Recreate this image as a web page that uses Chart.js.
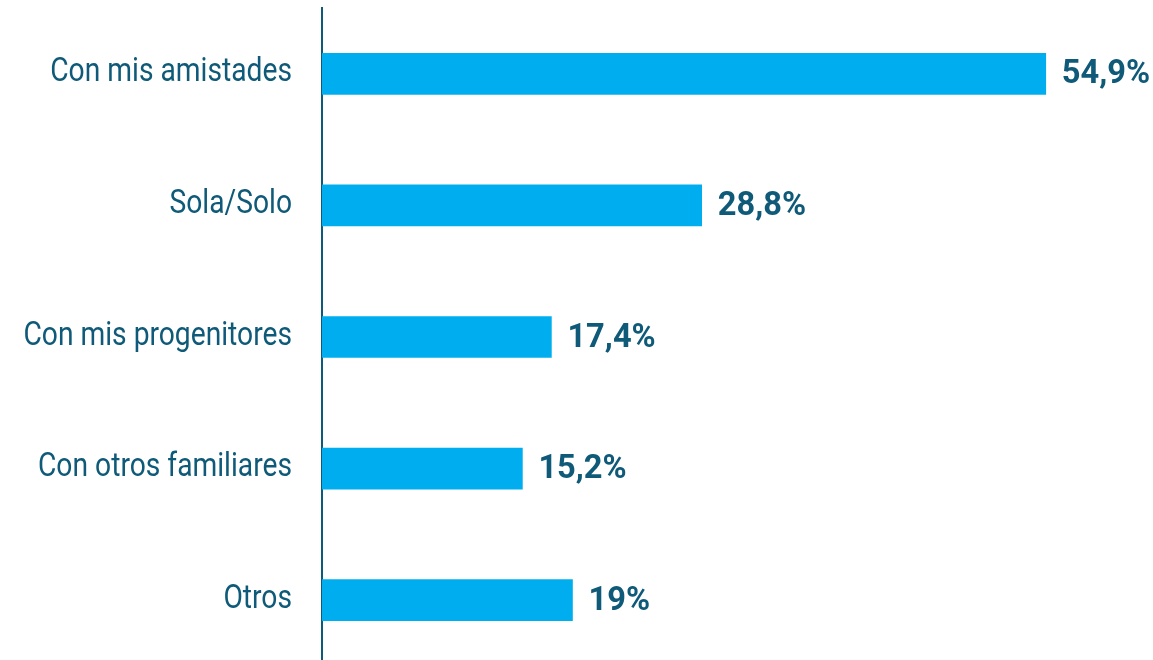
<!DOCTYPE html>
<html>
<head>
<meta charset="utf-8">
<script src="https://cdn.jsdelivr.net/npm/chart.js@4"></script>
<style>
  html, body { margin: 0; padding: 0; background: #fff; overflow: hidden; }
  #wrap { width: 1153px; height: 670px; }
</style>
</head>
<body>
<div id="wrap"><canvas id="chart" width="1153" height="670"></canvas></div>
<script>
const CATEGORIES = ['Con mis amistades', 'Sola/Solo', 'Con mis progenitores', 'Con otros familiares', 'Otros'];
const VALUES = [54.9, 28.8, 17.4, 15.2, 19];
const VALUE_LABELS = ['54,9%', '28,8%', '17,4%', '15,2%', '19%'];

const BAR_COLOR = '#00AEEF';
const TEXT_COLOR = '#0F5A78';
const FONT = "Roboto, 'Liberation Sans', sans-serif";

// the reference uses a condensed face; squeeze Roboto horizontally instead
function drawSqueezed(ctx, text, x, y, sx) {
  ctx.save();
  ctx.translate(x, y);
  ctx.scale(sx, 1);
  ctx.fillText(text, 0, 0);
  ctx.restore();
}

const textLabels = {
  id: 'textLabels',
  afterDatasetsDraw(chart) {
    const { ctx } = chart;
    const meta = chart.getDatasetMeta(0);
    const yScale = chart.scales.y;
    ctx.save();
    ctx.fillStyle = TEXT_COLOR;
    ctx.textBaseline = 'middle';

    ctx.font = `34px ${FONT}`;
    ctx.textAlign = 'right';
    CATEGORIES.forEach((c, i) => {
      drawSqueezed(ctx, c, yScale.right - 30, yScale.getPixelForTick(i) - 1, 0.83);
    });

    ctx.font = `bold 34px ${FONT}`;
    ctx.textAlign = 'left';
    meta.data.forEach((bar, i) => {
      drawSqueezed(ctx, VALUE_LABELS[i], bar.x + 16, bar.y + 1, 0.96);
    });
    ctx.restore();
  },
};

new Chart(document.getElementById('chart'), {
  type: 'bar',
  data: {
    labels: CATEGORIES,
    datasets: [{
      data: VALUES,
      backgroundColor: BAR_COLOR,
      borderWidth: 0,
      barThickness: 41,
    }],
  },
  options: {
    indexAxis: 'y',
    responsive: false,
    animation: false,
    layout: { padding: { top: 8, bottom: 4, left: 0, right: 40 } },
    plugins: { legend: { display: false }, tooltip: { enabled: false } },
    scales: {
      x: { display: false, min: 0, max: 60 },
      y: {
        afterFit(scale) {
          scale.width = 322;
          scale.paddingTop = 0;
          scale.paddingBottom = 0;
        },
        grid: { display: false, drawTicks: false },
        border: { display: true, color: TEXT_COLOR, width: 2 },
        ticks: { display: false },
      },
    },
  },
  plugins: [textLabels],
});
</script>
</body>
</html>
